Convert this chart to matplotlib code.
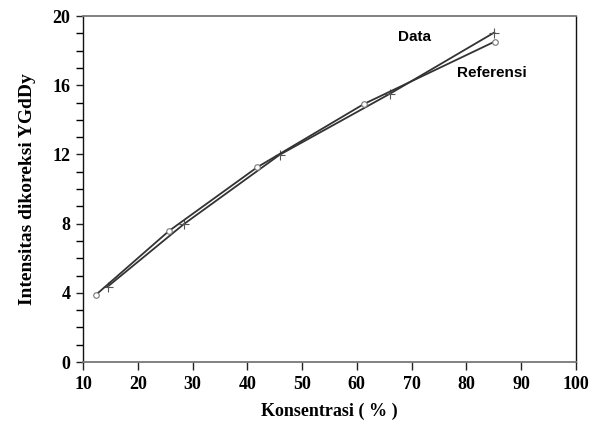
import matplotlib
matplotlib.use('Agg')
import matplotlib.pyplot as plt
from matplotlib.ticker import MultipleLocator

# values
data_x = [14.5, 28.4, 45.9, 66.1, 85.1]
data_y = [4.36, 7.97, 11.98, 15.52, 19.05]
ref_x = [12.4, 25.7, 41.8, 61.3, 85.2]
ref_y = [3.9, 7.58, 11.26, 14.92, 18.53]

x_ticks = [10, 20, 30, 40, 50, 60, 70, 80, 90, 100]
y_ticks = [0, 4, 8, 12, 16, 20]

serif = ['Liberation Serif', 'DejaVu Serif']
sans = ['Liberation Sans', 'DejaVu Sans']

fig = plt.figure(figsize=(5.91, 4.29), dpi=100)
ax = fig.add_axes([0.1404, 0.156, 0.834, 0.8065])

ax.plot(data_x, data_y, color='#333333', lw=1.3, marker='+', ms=7,
        mec='#555555', mew=0.8)
ax.plot(ref_x, ref_y, color='#333333', lw=1.3, marker='o', ms=4,
        mfc='white', mec='#777777', mew=0.8)

ax.text(70.6, 18.8, 'Data', fontsize=11, fontweight='bold', family=sans,
        ha='center', va='center')
ax.text(84.6, 16.7, 'Referensi', fontsize=11, fontweight='bold', family=sans,
        ha='center', va='center')

ax.set_xlim(10, 100)
ax.set_ylim(0, 20)
ax.set_xticks(x_ticks)
ax.set_yticks(y_ticks)
ax.yaxis.set_minor_locator(MultipleLocator(1))
ax.tick_params(axis='both', direction='out', width=1, color='#222222')
ax.tick_params(axis='x', length=6, pad=4)
ax.tick_params(axis='y', which='both', length=5, pad=4)
ax.tick_params(axis='y', which='minor', length=5, width=1)

for lab in ax.get_xticklabels() + ax.get_yticklabels():
    lab.set_family(serif)
    lab.set_fontweight('bold')
    lab.set_fontsize(13)

for side in ['top', 'bottom']:
    ax.spines[side].set_color('#777777')
    ax.spines[side].set_linewidth(1.3)
for side in ['left', 'right']:
    ax.spines[side].set_color('#111111')
    ax.spines[side].set_linewidth(1)

ax.set_xlabel('Konsentrasi ( % )', family=serif, fontweight='bold',
              fontsize=13, labelpad=7)
ax.set_ylabel('Intensitas dikoreksi YGdDy', family=serif, fontweight='bold',
              fontsize=14, labelpad=12)

plt.savefig('out.png', dpi=100)
